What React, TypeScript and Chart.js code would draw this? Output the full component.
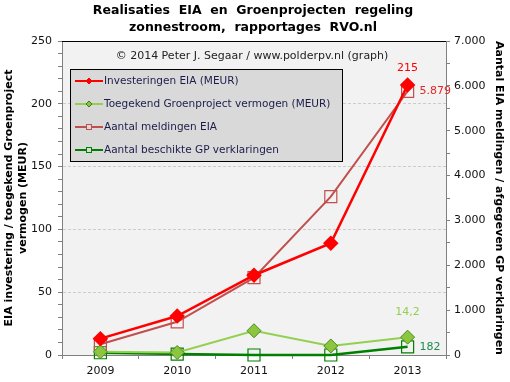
import { useEffect, useRef } from 'react';
import { Chart, registerables } from 'chart.js';
Chart.register(...registerables);

const titleLines = ['Realisaties  EIA  en  Groenprojecten  regeling', 'zonnestroom,  rapportages  RVO.nl'];
const copyright = '© 2014 Peter J. Segaar / www.polderpv.nl (graph)';
const years = ['2009', '2010', '2011', '2012', '2013'];
const eiaInvestering = [13, 31, 63.5, 89, 215];
const gpVermogen = [2.5, 2, 19.3, 7.2, 14.2];
const eiaMeldingen = [240, 740, 1725, 3530, 5879];
const gpVerklaringen = [50, 20, 0, 0, 182];
const seriesNames = [
  'Investeringen EIA (MEUR)',
  'Toegekend Groenproject vermogen (MEUR)',
  'Aantal meldingen EIA',
  'Aantal beschikte GP verklaringen',
];
const leftTitle = ['EIA investering / toegekend Groenproject', 'vermogen (MEUR)'];
const rightTitle = 'Aantal EIA meldingen / afgegeven GP verklaringen';
const leftMax = 250;
const rightMax = 7000;

const FONT = "'DejaVu Sans', Verdana, sans-serif";

const fmtThousands = (v: number) => {
  if (v === 0) return '0';
  const s = String(Math.round(v));
  return s.replace(/\B(?=(\d{3})+(?!\d))/g, '.');
};
const fmtComma = (v: number) => String(v).replace('.', ',');

const RED = '#ff0000';
const LGREEN = '#92d050';
const BROWN = '#c0504d';
const DGREEN = '#008000';

export default function App() {
  const ref = useRef<HTMLCanvasElement | null>(null);
  useEffect(() => {
    const canvas = ref.current;
    if (!canvas) return;

    const decor = {
      id: 'decor',
      beforeDraw(chart: any) {
        const { ctx, chartArea: a } = chart;
        ctx.save();
        ctx.fillStyle = '#ffffff';
        ctx.fillRect(0, 0, chart.width, chart.height);
        ctx.fillStyle = '#f2f2f2';
        ctx.fillRect(a.left, a.top, a.right - a.left, a.bottom - a.top);
        ctx.restore();
      },
      afterDraw(chart: any) {
        const { ctx, chartArea: a } = chart;
        ctx.save();
        // top border
        ctx.strokeStyle = '#000000';
        ctx.lineWidth = 1;
        ctx.beginPath();
        ctx.moveTo(a.left, a.top + 0.5);
        ctx.lineTo(a.right, a.top + 0.5);
        ctx.stroke();
        // title
        ctx.fillStyle = '#000000';
        ctx.font = `bold 12.5px ${FONT}`;
        ctx.textAlign = 'center';
        ctx.textBaseline = 'middle';
        ctx.fillText(titleLines[0], 253, 11);
        ctx.fillText(titleLines[1], 253, 28);
        // copyright
        ctx.font = `11px ${FONT}`;
        ctx.fillStyle = '#222222';
        ctx.fillText(copyright, 252, 56);
        // legend box
        const lx = 70.5, ly = 69.5, lw = 272, lh = 92;
        ctx.fillStyle = '#d9d9d9';
        ctx.fillRect(lx, ly, lw, lh);
        ctx.strokeStyle = '#000000';
        ctx.strokeRect(lx, ly, lw, lh);
        const colors = [RED, LGREEN, BROWN, DGREEN];
        const rows = [81, 104, 127, 150];
        ctx.font = `10.5px ${FONT}`;
        ctx.textAlign = 'left';
        for (let i = 0; i < 4; i++) {
          const y = rows[i];
          ctx.strokeStyle = colors[i];
          ctx.lineWidth = 2;
          ctx.beginPath();
          ctx.moveTo(75, y);
          ctx.lineTo(103, y);
          ctx.stroke();
          const cx = 89;
          ctx.lineWidth = 1;
          if (i < 2) {
            ctx.fillStyle = i === 0 ? RED : '#8cc63f';
            ctx.strokeStyle = i === 0 ? RED : '#3a7a10';
            ctx.beginPath();
            ctx.moveTo(cx, y - 3);
            ctx.lineTo(cx + 3, y);
            ctx.lineTo(cx, y + 3);
            ctx.lineTo(cx - 3, y);
            ctx.closePath();
            ctx.fill();
            ctx.stroke();
          } else {
            ctx.fillStyle = '#d9d9d9';
            ctx.strokeStyle = colors[i];
            ctx.fillRect(cx - 2.5, y - 2.5, 5, 5);
            ctx.strokeRect(cx - 2.5, y - 2.5, 5, 5);
          }
          ctx.fillStyle = '#1c1c4c';
          ctx.fillText(seriesNames[i], 104, y + 0.5);
        }
        // data labels for last points
        const x = chart.scales.x;
        const yl = chart.scales.y;
        const yr = chart.scales.y1;
        const last = years.length - 1;
        const px = x.getPixelForValue(last);
        ctx.font = `11px ${FONT}`;
        ctx.textBaseline = 'middle';
        ctx.textAlign = 'center';
        ctx.fillStyle = RED;
        ctx.fillText(String(eiaInvestering[last]), px, yl.getPixelForValue(eiaInvestering[last]) - 17);
        ctx.fillStyle = LGREEN;
        ctx.fillText(fmtComma(gpVermogen[last]), px, yl.getPixelForValue(gpVermogen[last]) - 25);
        ctx.textAlign = 'left';
        ctx.fillStyle = '#e02828';
        ctx.fillText(fmtThousands(eiaMeldingen[last]), px + 12, yr.getPixelForValue(eiaMeldingen[last]));
        ctx.fillStyle = '#1e8c50';
        ctx.fillText(String(gpVerklaringen[last]), px + 12, yr.getPixelForValue(gpVerklaringen[last]));
        ctx.restore();
      },
    };

    const chart = new Chart(canvas, {
      type: 'line',
      data: {
        labels: years,
        datasets: [
          {
            label: seriesNames[0],
            data: eiaInvestering,
            yAxisID: 'y',
            borderColor: RED,
            backgroundColor: RED,
            borderWidth: 2.5,
            pointStyle: 'rectRot',
            pointRadius: 6,
            pointBorderColor: RED,
            pointBackgroundColor: RED,
            tension: 0,
            clip: false,
          },
          {
            label: seriesNames[1],
            data: gpVermogen,
            yAxisID: 'y',
            borderColor: LGREEN,
            backgroundColor: '#8cc63f',
            borderWidth: 2,
            pointStyle: 'rectRot',
            pointRadius: 7,
            pointBorderColor: '#4e8a1e',
            pointBorderWidth: 1,
            pointBackgroundColor: '#8cc63f',
            tension: 0,
            clip: false,
          },
          {
            label: seriesNames[2],
            data: eiaMeldingen,
            yAxisID: 'y1',
            borderColor: BROWN,
            backgroundColor: 'rgba(0,0,0,0)',
            borderWidth: 2,
            pointStyle: 'rect',
            pointRadius: 8.5,
            pointBorderColor: BROWN,
            pointBorderWidth: 1.2,
            pointBackgroundColor: 'rgba(0,0,0,0)',
            tension: 0,
            clip: false,
          },
          {
            label: seriesNames[3],
            data: gpVerklaringen,
            yAxisID: 'y1',
            borderColor: DGREEN,
            backgroundColor: 'rgba(0,0,0,0)',
            borderWidth: 2.5,
            pointStyle: 'rect',
            pointRadius: 8.5,
            pointBorderColor: DGREEN,
            pointBorderWidth: 1.2,
            pointBackgroundColor: 'rgba(0,0,0,0)',
            tension: 0,
            clip: false,
          },
        ],
      },
      options: {
        responsive: false,
        animation: false,
        events: [],
        layout: { padding: { top: 41, left: 0, right: 0, bottom: 0 } },
        plugins: {
          legend: { display: false },
          title: { display: false },
          tooltip: { enabled: false },
        },
        scales: {
          x: {
            type: 'category',
            offset: true,
            grid: {
              offset: true,
              drawOnChartArea: false,
              tickLength: 4,
              tickColor: '#808080',
            },
            border: { color: '#808080' },
            ticks: { color: '#111111', font: { family: FONT, size: 11 }, padding: 6 },
            afterFit: (s: any) => { s.height = 27; },
          },
          y: {
            position: 'left',
            min: 0,
            max: leftMax,
            grid: {
              color: (c: any) => {
                const v = c.tick ? c.tick.value : 0;
                return v % 50 === 0 && v !== 0 && v !== leftMax ? '#cccccc' : 'rgba(0,0,0,0)';
              },
              tickColor: '#808080',
              tickLength: 4,
            },
            border: { color: '#808080', dash: [3, 2] },
            ticks: {
              stepSize: 10,
              autoSkip: false,
              color: '#111111',
              font: { family: FONT, size: 11 },
              padding: 6,
              callback: (v: any) => (Number(v) % 50 === 0 ? String(v) : ''),
            },
            title: {
              display: true,
              text: leftTitle,
              color: '#000000',
              font: { family: FONT, size: 11, weight: 'bold' },
              padding: { top: 3, bottom: 0 },
            },
            afterFit: (s: any) => { s.width = 62; },
          },
          y1: {
            position: 'right',
            min: 0,
            max: rightMax,
            grid: { drawOnChartArea: false, tickColor: '#808080', tickLength: 4 },
            border: { color: '#808080' },
            ticks: {
              stepSize: 500,
              autoSkip: false,
              color: '#111111',
              font: { family: FONT, size: 11 },
              padding: 4,
              callback: (v: any) => (Number(v) % 1000 === 0 ? fmtThousands(Number(v)) : ''),
            },
            title: {
              display: true,
              text: rightTitle,
              color: '#000000',
              font: { family: FONT, size: 11, weight: 'bold' },
              padding: { top: 5, bottom: 0 },
            },
            afterFit: (s: any) => { s.width = 64; },
          },
        },
      },
      plugins: [decor],
    } as any);
    return () => chart.destroy();
  }, []);

  return (
    <div style={{ position: 'absolute', left: 0, top: 0, width: 510, height: 382 }}>
      <canvas ref={ref} width={510} height={382} style={{ width: 510, height: 382, display: 'block' }} />
    </div>
  );
}
